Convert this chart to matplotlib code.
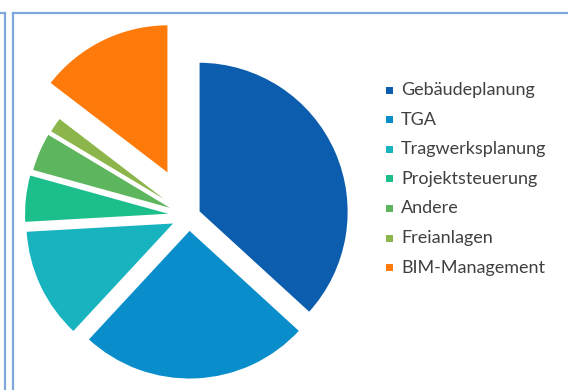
import matplotlib
matplotlib.use("Agg")
import matplotlib.pyplot as plt
from matplotlib.patches import Rectangle
from matplotlib.lines import Line2D

labels = ["Gebäudeplanung", "TGA", "Tragwerksplanung", "Projektsteuerung",
          "Andere", "Freianlagen", "BIM-Management"]
values = [36.8, 25.1, 12.2, 5.2, 4.3, 1.8, 14.6]
colors = ["#0C5DAE", "#0A8ECB", "#17B4BF", "#1CBF8C", "#5DB65E", "#8CB64C", "#FE7A0B"]
explode = [0.07, 0.09, 0.10, 0.10, 0.09, 0.085, 0.31]

W, H = 568, 390
fig = plt.figure(figsize=(W / 100, H / 100), dpi=100)
ax = fig.add_axes([0, 0, 1, 1])

R = 150
cx, cy = 189, H - 216
wedges, _ = ax.pie(values, colors=colors, startangle=90, counterclock=False,
                   radius=R, center=(cx, cy), explode=[e * R for e in explode],
                   wedgeprops=dict(edgecolor="white", linewidth=1.4),
                   frame=True)
ax.set_xlim(0, W)
ax.set_ylim(0, H)
ax.set_aspect("equal")
ax.axis("off")

# legend
x0 = 389
y_top = H - 90
step = 29.6
for i, (lab, col) in enumerate(zip(labels, colors)):
    y = y_top - i * step
    ax.add_patch(Rectangle((x0 - 3.5, y - 3.5), 7, 7, facecolor=col, edgecolor="none"))
    ax.text(x0 + 12, y, lab, fontsize=13, family="Lato", color="#404040",
            va="center", ha="left")

# frame lines
blue = "#7FA7DE"
ax.add_line(Line2D([12.5, W], [H - 12.5, H - 12.5], color=blue, lw=1.6))
ax.add_line(Line2D([12.5, 12.5], [0, H - 12.5], color=blue, lw=1.6))
ax.add_line(Line2D([5, 5], [0, H - 12.5], color=blue, lw=1.6))
ax.add_line(Line2D([0, 5], [H - 12.5, H - 12.5], color=blue, lw=1.6))

fig.savefig("out.png", dpi=100)
